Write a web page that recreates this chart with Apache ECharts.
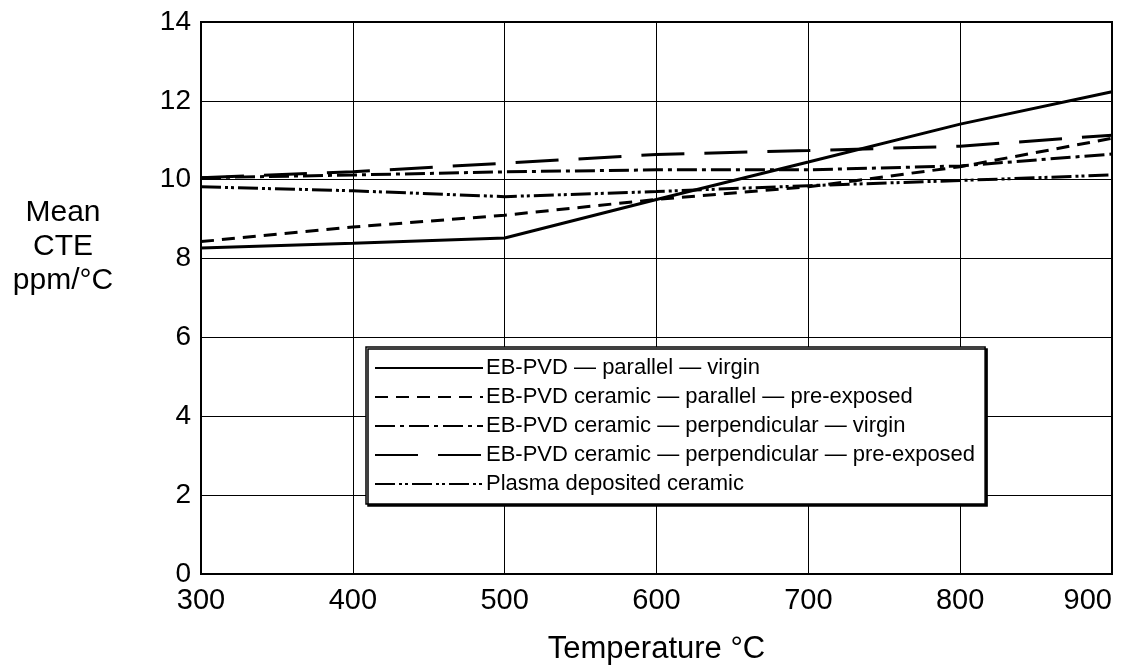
<!DOCTYPE html>
<html>
<head>
<meta charset="utf-8">
<script src="https://cdn.jsdelivr.net/npm/echarts@6/dist/echarts.min.js"></script>
<style>
html,body{margin:0;padding:0;background:#fff;}
#chart{width:1130px;height:665px;}
</style>
</head>
<body>
<div id="chart"></div>
<script>
// Temperature (°C) at which values were read
const temperatures = [300, 400, 500, 600, 700, 800, 900];
// Mean CTE, ppm/°C
const ebpvdParallelVirgin = [8.27, 8.39, 8.52, 9.5, 10.45, 11.41, 12.23];
const ebpvdParallelPreExposed = [8.43, 8.8, 9.1, 9.5, 9.82, 10.33, 11.05];
const ebpvdPerpVirgin = [10.05, 10.12, 10.2, 10.25, 10.25, 10.35, 10.65];
const ebpvdPerpPreExposed = [10.05, 10.2, 10.42, 10.64, 10.74, 10.85, 11.13];
const plasmaDeposited = [9.82, 9.72, 9.57, 9.7, 9.85, 9.98, 10.12];

const seriesNames = [
  'EB-PVD — parallel — virgin',
  'EB-PVD ceramic — parallel — pre-exposed',
  'EB-PVD ceramic — perpendicular — virgin',
  'EB-PVD ceramic — perpendicular — pre-exposed',
  'Plasma deposited ceramic'
];
const xTicks = [300, 400, 500, 600, 700, 800, 900];
const yTicks = [0, 2, 4, 6, 8, 10, 12, 14];

const seriesValues = [ebpvdParallelVirgin, ebpvdParallelPreExposed, ebpvdPerpVirgin, ebpvdPerpPreExposed, plasmaDeposited];
const dashTypes = ['solid', [13, 8], [20, 5, 4, 5], [43, 20], [20, 4, 3, 3, 3, 4]];

const FONT = '"Liberation Sans", Arial, Helvetica, sans-serif';

const chart = echarts.init(document.getElementById('chart'), null, {renderer: 'canvas'});
chart.setOption({
  animation: false,
  backgroundColor: '#fff',
  grid: {
    left: 201, right: 18, top: 22, bottom: 91,
    containLabel: false,
    outerBoundsMode: 'none',
    show: true, borderColor: '#000', borderWidth: 2, backgroundColor: 'transparent'
  },
  xAxis: {
    type: 'value',
    min: xTicks[0], max: xTicks[xTicks.length - 1], interval: 100,
    axisLine: {show: true, lineStyle: {color: '#000', width: 2}},
    axisTick: {show: false},
    splitLine: {show: true, lineStyle: {color: '#000', width: 1}},
    axisLabel: {color: '#000', fontFamily: FONT, fontSize: 29, margin: 12, alignMaxLabel: 'right'},
    name: 'Temperature °C',
    nameLocation: 'middle',
    nameGap: 60,
    nameTextStyle: {color: '#000', fontFamily: FONT, fontSize: 31}
  },
  yAxis: {
    type: 'value',
    min: yTicks[0], max: yTicks[yTicks.length - 1], interval: 2,
    axisLine: {show: true, lineStyle: {color: '#000', width: 2}},
    axisTick: {show: false},
    splitLine: {show: true, lineStyle: {color: '#000', width: 1}},
    axisLabel: {color: '#000', fontFamily: FONT, fontSize: 28, margin: 10}
  },
  graphic: [{
    type: 'text',
    left: 9, top: 196,
    style: {
      text: 'Mean\nCTE\nppm/°C',
      fill: '#000',
      font: '30px ' + FONT,
      textAlign: 'center',
      lineHeight: 34,
      width: 108
    }
  }],
  legend: {
    orient: 'vertical',
    left: 366, top: 347,
    padding: [10, 10, 9, 8],
    itemWidth: 108, itemHeight: 14, itemGap: 7,
    backgroundColor: '#fff',
    borderColor: '#000', borderWidth: 1.5,
    shadowColor: '#000', shadowOffsetX: 2, shadowOffsetY: 2, shadowBlur: 0,
    itemStyle: {color: 'transparent', borderColor: 'transparent', borderWidth: 0},
    textStyle: {color: '#000', fontFamily: FONT, fontSize: 22, lineHeight: 21, padding: [0, 0, 0, -2]},
    data: seriesNames
  },
  series: seriesValues.map((vals, i) => ({
    name: seriesNames[i],
    type: 'line',
    symbol: 'none',
    z: 3,
    lineStyle: {color: '#000', width: 3, type: dashTypes[i]},
    itemStyle: {color: '#000'},
    data: temperatures.map((t, k) => [t, vals[k]])
  }))
});
</script>
</body>
</html>
